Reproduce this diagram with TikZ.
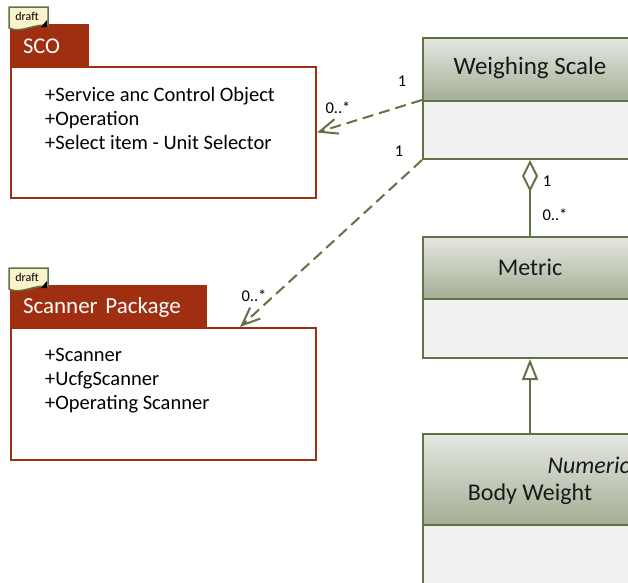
\documentclass[tikz,border=0pt]{standalone}
\usepackage{fontspec}
\setmainfont{Carlito}
\usetikzlibrary{arrows.meta}
\definecolor{umlgreen}{RGB}{96,114,70}
\definecolor{hdrtop}{RGB}{229,231,226}
\definecolor{hdrbot}{RGB}{163,174,148}
\definecolor{bodyfill}{RGB}{240,240,240}
\definecolor{pkgred}{RGB}{160,46,16}
\definecolor{draftfill}{RGB}{251,243,204}
\tikzset{
  hdr/.style={draw=umlgreen, line width=2pt, top color=hdrtop, bottom color=hdrbot, anchor=north west, inner sep=0pt},
  bodyc/.style={draw=umlgreen, line width=2pt, fill=bodyfill, anchor=north west, inner sep=0pt},
  pkgtab/.style={draw=pkgred, fill=pkgred, line width=2pt, anchor=north west, text=white, align=left, inner xsep=12pt, inner ysep=0pt},
  pkgbody/.style={draw=pkgred, fill=white, line width=2pt, anchor=north west, inner sep=0pt},
  attrs/.style={anchor=north west, inner sep=0pt, align=left, font=\fontsize{20.5}{24}\selectfont},
  cname/.style={font=\fontsize{24}{26}\selectfont, text=black!90},
  mult/.style={font=\fontsize{16.5}{17}\selectfont, inner sep=0pt},
  dep/.style={draw=umlgreen, line width=2pt, dash pattern=on 11pt off 6pt, -{Straight Barb[length=18pt,width=15pt]}},
  drafttag/.pic={
    \draw[fill=draftfill, draw=umlgreen, line width=1.5pt] (0,0) -- (39,0) -- (39,19) .. controls (29,15) and (12,27) .. (0,21) -- cycle;
    \fill[black] (32,20) -- (38,13) -- (38,20) -- cycle;
    \node[font=\fontsize{12}{12}\selectfont, inner sep=0pt] (-t) at (18,9) {draft};
  }
}
\begin{document}
\begin{tikzpicture}[x=1pt,y=-1pt]
\useasboundingbox (0,0) rectangle (628,582);
\clip (0,0) rectangle (628,582);

% SCO package
\node[pkgtab, text width=53pt, minimum height=42pt, font=\fontsize{22.5}{24}\selectfont] (scot) at (10,24) {SCO};
\node[pkgbody, minimum width=305pt, minimum height=131pt] (scob) at (10,66) {};
\node[attrs] (scoa) at (45,87) {+Service anc Control Object\\+Operation\\+Select item - Unit Selector};
\pic (d1) at (9,7) {drafttag};

% Scanner package
\node[pkgtab, text width=171pt, minimum height=42pt, font=\fontsize{23}{24}\selectfont] (scnt) at (10,285) {Scanner Package};
\node[pkgbody, minimum width=305pt, minimum height=132pt] (scnb) at (10,327) {};
\node[attrs] (scna) at (45,348) {+Scanner\\+UcfgScanner\\+Operating Scanner};
\pic (d2) at (9,268) {drafttag};

% Weighing Scale
\node[hdr, minimum width=216pt, minimum height=63pt] (wsh) at (422,37) {};
\node[cname, font=\fontsize{25}{26}\selectfont] (wst) at (530,68) {Weighing Scale};
\node[bodyc, minimum width=216pt, minimum height=58pt] (wsb) at (422,100) {};

% Metric
\node[hdr, minimum width=216pt, minimum height=62pt] (mh) at (422,236) {};
\node[cname] (mt) at (530,267) {Metric};
\node[bodyc, minimum width=216pt, minimum height=59pt] (mb) at (422,298) {};

% Body Weight
\node[hdr, minimum width=216pt, minimum height=91pt] (bwh) at (422,433) {};
\node[cname, anchor=west, font=\fontsize{24}{26}\selectfont\itshape] (bwn) at (544,465) {Numeric};
\node[cname] (bwt) at (530,494) {Body Weight};
\node[bodyc, minimum width=216pt, minimum height=70pt] (bwb) at (422,524) {};

% connectors
\coordinate (scin) at (240,327);
\draw[dep] (wsb.north west) -- (scob.east);
\draw[dep] (wsb.south west) -- (scin);
\draw[draw=umlgreen, line width=2pt, {Diamond[open,length=32pt,width=16pt]}-] (wsb.south -| wst) -- (mh.north -| mt);
\draw[draw=umlgreen, line width=2pt, -{Triangle[open,length=21pt,width=16pt]}] (bwh.north -| bwt) -- (mb.south -| mt);

% multiplicities
\node[mult] (m1) at (402,81) {1};
\node[mult] (m2) at (338,108) {0..*};
\node[mult] (m3) at (399,151) {1};
\node[mult] (m4) at (254,296) {0..*};
\node[mult] (m5) at (547,181) {1};
\node[mult] (m6) at (555,215) {0..*};
\end{tikzpicture}
\end{document}
